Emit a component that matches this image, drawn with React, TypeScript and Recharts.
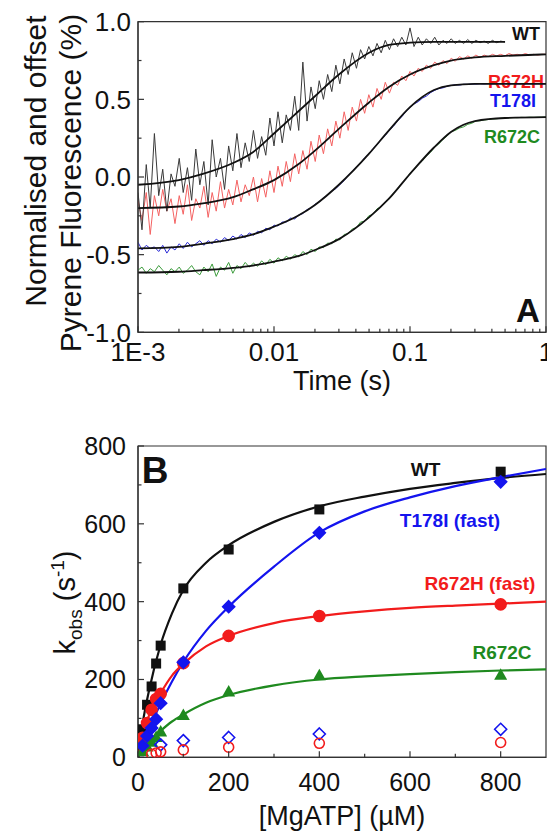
import React from 'react';
import { ComposedChart, Line, Scatter, XAxis, YAxis, ReferenceArea } from 'recharts';

// ── Panel A: stopped-flow pyrene traces (log time) ───────────────────────────

const RAW_T = [
  0.001, 0.00107, 0.00115, 0.00123, 0.00132, 0.00142, 0.00152, 0.00163, 0.00175, 0.00187,
  0.00201, 0.00215, 0.00231, 0.00248, 0.00266, 0.00285, 0.00305, 0.00328, 0.00351, 0.00376,
  0.00404, 0.00433, 0.00464, 0.00498, 0.00534, 0.00572, 0.00614, 0.00658, 0.00706, 0.00757,
  0.00811, 0.0087, 0.00933,
  0.01, 0.0107, 0.0115, 0.0123, 0.0132, 0.0142, 0.0152, 0.0163, 0.0175, 0.0187,
  0.0201, 0.0215, 0.0231, 0.0248, 0.0266, 0.0285, 0.0305, 0.0328, 0.0351, 0.0376,
  0.0404, 0.0433, 0.0464, 0.0498, 0.0534, 0.0572, 0.0614, 0.0658, 0.0706, 0.0757,
  0.0811, 0.087, 0.0933,
  0.1, 0.107, 0.115, 0.123, 0.132, 0.142, 0.152, 0.163, 0.175, 0.187,
  0.201, 0.215, 0.231, 0.248, 0.266, 0.285, 0.305, 0.328, 0.351, 0.376,
  0.404, 0.433, 0.464, 0.498, 0.534, 0.572, 0.614, 0.658, 0.706, 0.757,
  0.811, 0.87, 0.933, 1.0,
];

// WT trace stops at ~0.5 s
const WT_RAW = [
  -0.10, -0.34, 0.08, -0.20, 0.28, -0.12, 0.05, -0.22, 0.02, -0.06,
  0.12, -0.10, 0.06, -0.15, 0.18, -0.05, 0.10, -0.18, 0.24, 0.00,
  0.12, -0.08, 0.20, 0.04, 0.28, 0.06, 0.22, 0.10, 0.30, 0.12,
  0.26, 0.14, 0.38, 0.20, 0.42, 0.22, 0.40, 0.30, 0.52, 0.30,
  0.74, 0.36, 0.58, 0.44, 0.62, 0.50, 0.66, 0.55, 0.72, 0.60,
  0.76, 0.66, 0.80, 0.70, 0.82, 0.76, 0.84, 0.78, 0.86, 0.80,
  0.88, 0.82, 0.89, 0.84, 0.90, 0.85, 0.96, 0.84, 0.90, 0.85,
  0.89, 0.86, 0.90, 0.85, 0.88, 0.86, 0.89, 0.86, 0.88, 0.86,
  0.885, 0.86, 0.88, 0.865, 0.875, 0.86, 0.88, 0.865, 0.875, 0.87,
];

const R672H_RAW = [
  -0.15, -0.28, -0.10, -0.37, -0.12, -0.25, -0.08, -0.22, -0.14, -0.30,
  -0.12, -0.24, -0.05, -0.28, -0.14, -0.20, -0.06, -0.26, -0.10, -0.22,
  -0.03, -0.20, -0.08, -0.18, -0.02, -0.16, -0.05, -0.12,
  0.00, -0.16, -0.01, -0.13, 0.04, -0.10, 0.07, -0.06, 0.10, -0.03,
  0.15, 0.02, 0.17, 0.05, 0.23, 0.10, 0.27, 0.15, 0.31, 0.20,
  0.36, 0.25, 0.42, 0.30, 0.45, 0.36, 0.50, 0.41, 0.53, 0.45,
  0.57, 0.50, 0.61, 0.54, 0.61, 0.59, 0.65, 0.62, 0.68, 0.65,
  0.70, 0.68, 0.72, 0.70, 0.74, 0.72, 0.75, 0.73, 0.765, 0.745,
  0.775, 0.76, 0.78, 0.765, 0.785, 0.77, 0.785, 0.775, 0.79, 0.78,
  0.79, 0.78, 0.795, 0.785, 0.79, 0.785, 0.795, 0.785, 0.79, 0.785, 0.79, 0.79,
];

const T178I_RAW = [
  -0.42, -0.47, -0.44, -0.46, -0.45, -0.48, -0.44, -0.49, -0.45, -0.47,
  -0.43, -0.46, -0.42, -0.45, -0.43, -0.41, -0.44, -0.41, -0.43, -0.40,
  -0.42, -0.39, -0.41, -0.38, -0.40, -0.37, -0.39, -0.36, -0.375, -0.35,
  -0.36, -0.33, -0.34, -0.31, -0.315, -0.29, -0.29, -0.265, -0.27, -0.245,
  -0.235, -0.21, -0.20, -0.175, -0.16, -0.135, -0.117, -0.09, -0.075, -0.048,
  -0.023, 0.01, 0.034, 0.066, 0.091, 0.123, 0.148, 0.182, 0.208, 0.242,
  0.268, 0.302, 0.328, 0.362, 0.388, 0.422, 0.448, 0.47, 0.485, 0.507,
  0.521, 0.544, 0.558, 0.57, 0.574, 0.585, 0.589, 0.594, 0.592, 0.597,
  0.596, 0.599, 0.598, 0.601, 0.599, 0.601, 0.599, 0.601, 0.6, 0.601,
  0.599, 0.601, 0.6, 0.599, 0.601, 0.6, 0.599, 0.601, 0.6, 0.6,
];

const R672C_RAW = [
  -0.60, -0.58, -0.62, -0.59, -0.61, -0.57, -0.60, -0.63, -0.59, -0.61,
  -0.58, -0.62, -0.60, -0.57, -0.61, -0.63, -0.58, -0.61, -0.56, -0.64,
  -0.58, -0.60, -0.55, -0.62, -0.57, -0.59, -0.55, -0.58, -0.555, -0.575,
  -0.54, -0.565, -0.53, -0.555, -0.52, -0.54, -0.51, -0.53, -0.50, -0.515,
  -0.48, -0.50, -0.465, -0.48, -0.45, -0.455, -0.425, -0.43, -0.40, -0.405,
  -0.37, -0.365, -0.335, -0.325, -0.29, -0.285, -0.25, -0.24, -0.205, -0.19,
  -0.16, -0.14, -0.105, -0.078, -0.04, -0.014, 0.024, 0.046, 0.08, 0.103,
  0.136, 0.16, 0.193, 0.213, 0.243, 0.263, 0.292, 0.30, 0.315, 0.323,
  0.339, 0.346, 0.361, 0.362, 0.367, 0.37, 0.374, 0.375, 0.378, 0.379,
  0.381, 0.383, 0.382, 0.384, 0.383, 0.385, 0.384, 0.385, 0.385, 0.386,
];

const FIT_T = [0.001, 0.002, 0.003, 0.005, 0.007, 0.01, 0.015, 0.02, 0.03, 0.05, 0.07, 0.1, 0.15, 0.2, 0.3, 0.5, 1];
const WT_FIT = [-0.05, -0.02, 0.02, 0.09, 0.16, 0.28, 0.42, 0.52, 0.66, 0.8, 0.85, 0.865, 0.87, 0.87, 0.87, 0.87];
const R672H_FIT = [-0.2, -0.19, -0.17, -0.13, -0.08, -0.02, 0.08, 0.17, 0.31, 0.48, 0.58, 0.66, 0.72, 0.75, 0.77, 0.78, 0.79];
const T178I_FIT = [-0.46, -0.45, -0.43, -0.4, -0.37, -0.32, -0.25, -0.18, -0.05, 0.15, 0.3, 0.45, 0.56, 0.59, 0.6, 0.6, 0.6];
const R672C_FIT = [-0.615, -0.61, -0.6, -0.585, -0.57, -0.545, -0.51, -0.47, -0.4, -0.26, -0.14, 0.02, 0.19, 0.29, 0.36, 0.38, 0.385];

const TIME_MAJOR = [0.001, 0.01, 0.1, 1];
const TIME_MINOR = [
  0.002, 0.003, 0.004, 0.005, 0.006, 0.007, 0.008, 0.009,
  0.02, 0.03, 0.04, 0.05, 0.06, 0.07, 0.08, 0.09,
  0.2, 0.3, 0.4, 0.5, 0.6, 0.7, 0.8, 0.9,
];
const FLUOR_MAJOR = [-1, -0.5, 0, 0.5, 1];
const FLUOR_MINOR = [-0.75, -0.25, 0.25, 0.75];

// ── Panel B: kobs vs [MgATP] ────────────────────────────────────────────────

const CONC = [10, 20, 30, 40, 50, 100, 200, 400, 800];
const WT_KOBS = [72, 135, 182, 241, 287, 434, 534, 637, 734];
const T178I_KOBS = [30, 55, 75, 98, 139, 244, 387, 577, 708];
const R672H_KOBS = [50, 88, 122, 150, 163, 242, 312, 363, 393];
const R672C_KOBS = [16, 28, 40, 52, 66, 109, 169, 211, 212];

const T178I_SLOW_CONC = [50, 100, 200, 400, 800];
const T178I_SLOW = [32, 43, 51, 60, 72];
const R672H_SLOW_CONC = [30, 40, 50, 100, 200, 400, 800];
const R672H_SLOW = [8, 11, 14, 19, 26, 36, 38];

const FIT_CONC = [0, 10, 25, 50, 75, 100, 150, 200, 300, 400, 500, 600, 700, 800, 900];
const WT_HYP = [0, 85, 175, 290, 370, 430, 500, 545, 605, 645, 670, 690, 705, 718, 728];
const T178I_HYP = [0, 30, 75, 138, 195, 245, 325, 387, 490, 578, 632, 668, 697, 720, 741];
const R672H_HYP = [0, 55, 110, 165, 210, 240, 285, 312, 345, 363, 375, 384, 390, 395, 400];
const R672C_HYP = [0, 18, 40, 68, 92, 110, 140, 160, 185, 200, 208, 214, 219, 223, 226];

const CONC_MAJOR = [0, 200, 400, 600, 800];
const CONC_MINOR = [100, 300, 500, 700];
const KOBS_MAJOR = [0, 200, 400, 600, 800];
const KOBS_MINOR = [100, 300, 500, 700];

// ── Styling ─────────────────────────────────────────────────────────────────

const FONT = '"Liberation Sans", Arial, Helvetica, sans-serif';
const INK = '#111';
const AXIS = '#333';
const RED = '#f21c1c';
const BLUE = '#1414ee';
const GREEN = '#1f8a1f';

const W = 547;

const pairs = (xs: number[], ys: number[], kx: string, ky: string) =>
  ys.map((v, i) => ({ [kx]: xs[i], [ky]: v }));

// ticks point inward; tickSize/tickMargin are 0 so x/y arrive on the axis line
function xTick(majors: number[], fmt: (v: number) => string, fontSize: number, base: number) {
  return (p: any) => {
    const { x, y, payload } = p;
    const major = majors.indexOf(payload.value) >= 0;
    return (
      <g>
        <line x1={x} x2={x} y1={y} y2={y - (major ? 6 : 3.5)} stroke={AXIS} strokeWidth={1.2} />
        {major && (
          <text x={x} y={y + base} textAnchor="middle" fontSize={fontSize} fontFamily={FONT} fill={INK}>
            {fmt(payload.value)}
          </text>
        )}
      </g>
    );
  };
}

function yTick(majors: number[], fmt: (v: number) => string, fontSize: number, gap: number) {
  return (p: any) => {
    const { x, y, payload } = p;
    const major = majors.indexOf(payload.value) >= 0;
    return (
      <g>
        <line x1={x} x2={x + (major ? 6 : 3.5)} y1={y} y2={y} stroke={AXIS} strokeWidth={1.2} />
        {major && (
          <text x={x - gap} y={y + fontSize * 0.36} textAnchor="end" fontSize={fontSize} fontFamily={FONT} fill={INK}>
            {fmt(payload.value)}
          </text>
        )}
      </g>
    );
  };
}

const fmtTime = (v: number) => (v === 0.001 ? '1E-3' : String(v));
const fmtFluor = (v: number) => v.toFixed(1);

function PanelA() {
  const wtRaw = pairs(RAW_T, WT_RAW, 't', 'v');
  const rRaw = pairs(RAW_T, R672H_RAW, 't', 'v');
  const tRaw = pairs(RAW_T, T178I_RAW, 't', 'v');
  const cRaw = pairs(RAW_T, R672C_RAW, 't', 'v');
  const fits = [WT_FIT, R672H_FIT, T178I_FIT, R672C_FIT].map((f) => pairs(FIT_T, f, 't', 'v'));

  return (
    <ComposedChart width={W} height={420} margin={{ top: 21.7, right: 1, bottom: 0, left: 0 }}>
      <XAxis
        dataKey="t"
        type="number"
        scale="log"
        domain={[0.001, 1]}
        allowDataOverflow
        ticks={[...TIME_MAJOR, ...TIME_MINOR].sort((a, b) => a - b)}
        interval={0}
        tickSize={0}
        tickMargin={0}
        tickLine={false}
        tick={xTick(TIME_MAJOR, fmtTime, 26, 29)}
        axisLine={{ stroke: AXIS, strokeWidth: 1.2 }}
        height={87.7}
      />
      <YAxis
        type="number"
        domain={[-1, 1]}
        allowDataOverflow
        ticks={[...FLUOR_MAJOR, ...FLUOR_MINOR].sort((a, b) => a - b)}
        interval={0}
        tickSize={0}
        tickMargin={0}
        tickLine={false}
        tick={yTick(FLUOR_MAJOR, fmtFluor, 26, 7)}
        axisLine={{ stroke: AXIS, strokeWidth: 1.2 }}
        width={138}
      />
      <ReferenceArea x1={0.001} x2={1} y1={-1} y2={1} fill="none" stroke={AXIS} strokeWidth={1.2} />

      <Line data={cRaw} dataKey="v" type="linear" stroke="#3c9c3c" strokeWidth={1} dot={false} activeDot={false} isAnimationActive={false} />
      <Line data={tRaw} dataKey="v" type="linear" stroke="#2a2ad6" strokeWidth={1} dot={false} activeDot={false} isAnimationActive={false} />
      <Line data={rRaw} dataKey="v" type="linear" stroke="#f46262" strokeWidth={1} dot={false} activeDot={false} isAnimationActive={false} />
      <Line data={wtRaw} dataKey="v" type="linear" stroke="#3a3a3a" strokeWidth={1} dot={false} activeDot={false} isAnimationActive={false} />
      {fits.map((d, i) => (
        <Line key={i} data={d} dataKey="v" type="monotone" stroke={INK} strokeWidth={1.8} dot={false} activeDot={false} isAnimationActive={false} />
      ))}

      <text transform="rotate(-90)" x={-161} y={46} textAnchor="middle" fontSize={30} fontFamily={FONT} fill={INK}>
        Normalised and offset
      </text>
      <text transform="rotate(-90)" x={-183} y={81} textAnchor="middle" fontSize={30} fontFamily={FONT} fill={INK}>
        Pyrene Fluorescence (%)
      </text>
      <text x={342} y={390} textAnchor="middle" fontSize={27} fontFamily={FONT} fill={INK}>
        Time (s)
      </text>
      <g fontFamily={FONT} fontWeight="bold" fontSize={18} textAnchor="middle">
        <text x={526} y={39.8} fill={INK}>WT</text>
        <text x={516} y={88.2} fill={RED}>R672H</text>
        <text x={513} y={106.5} fill={BLUE}>T178I</text>
        <text x={512} y={143.2} fill={GREEN}>R672C</text>
      </g>
      <text x={528} y={322} textAnchor="middle" fontSize={33} fontWeight="bold" fontFamily={FONT} fill={INK}>
        A
      </text>
    </ComposedChart>
  );
}

// marker shapes
const square = (p: any) => <rect x={p.cx - 5} y={p.cy - 5} width={10} height={10} fill={INK} />;
const diamond = (fill: string, stroke: string, r: number) => (p: any) => (
  <polygon
    points={`${p.cx},${p.cy - r} ${p.cx + r},${p.cy} ${p.cx},${p.cy + r} ${p.cx - r},${p.cy}`}
    fill={fill}
    stroke={stroke}
    strokeWidth={1.6}
  />
);
const circle = (fill: string, r: number) => (p: any) => (
  <circle cx={p.cx} cy={p.cy} r={r} fill={fill} stroke={RED} strokeWidth={1.6} />
);
const triangle = (p: any) => (
  <polygon points={`${p.cx},${p.cy - 6.5} ${p.cx + 6.5},${p.cy + 5} ${p.cx - 6.5},${p.cy + 5}`} fill={GREEN} />
);

function PanelB() {
  const hyp = (ys: number[]) => pairs(FIT_CONC, ys, 'x', 'y');
  const pts = (xs: number[], ys: number[]) => pairs(xs, ys, 'x', 'y');

  return (
    <ComposedChart width={W} height={413} margin={{ top: 26, right: 1, bottom: 0, left: 0 }}>
      <XAxis
        dataKey="x"
        type="number"
        domain={[0, 900]}
        allowDataOverflow
        ticks={[...CONC_MAJOR, ...CONC_MINOR].sort((a, b) => a - b)}
        interval={0}
        tickSize={0}
        tickMargin={0}
        tickLine={false}
        tick={xTick(CONC_MAJOR, String, 25, 33.5)}
        axisLine={{ stroke: AXIS, strokeWidth: 1.2 }}
        height={75.7}
      />
      <YAxis
        dataKey="y"
        type="number"
        domain={[0, 800]}
        allowDataOverflow
        ticks={[...KOBS_MAJOR, ...KOBS_MINOR].sort((a, b) => a - b)}
        interval={0}
        tickSize={0}
        tickMargin={0}
        tickLine={false}
        tick={yTick(KOBS_MAJOR, String, 25, 12)}
        axisLine={{ stroke: AXIS, strokeWidth: 1.2 }}
        width={138}
      />
      <ReferenceArea x1={0} x2={900} y1={0} y2={800} fill="none" stroke={AXIS} strokeWidth={1.2} />

      <Line data={hyp(WT_HYP)} dataKey="y" type="monotone" stroke={INK} strokeWidth={2.2} dot={false} activeDot={false} isAnimationActive={false} />
      <Line data={hyp(T178I_HYP)} dataKey="y" type="monotone" stroke={BLUE} strokeWidth={2.2} dot={false} activeDot={false} isAnimationActive={false} />
      <Line data={hyp(R672H_HYP)} dataKey="y" type="monotone" stroke={RED} strokeWidth={2.2} dot={false} activeDot={false} isAnimationActive={false} />
      <Line data={hyp(R672C_HYP)} dataKey="y" type="monotone" stroke={GREEN} strokeWidth={2.2} dot={false} activeDot={false} isAnimationActive={false} />

      <Scatter data={pts(CONC, WT_KOBS)} shape={square} isAnimationActive={false} />
      <Scatter data={pts(CONC, R672H_KOBS)} shape={circle(RED, 5.5)} isAnimationActive={false} />
      <Scatter data={pts(CONC, R672C_KOBS)} shape={triangle} isAnimationActive={false} />
      <Scatter data={pts(CONC, T178I_KOBS)} shape={diamond(BLUE, BLUE, 6)} isAnimationActive={false} />
      <Scatter data={pts(T178I_SLOW_CONC, T178I_SLOW)} shape={diamond('none', BLUE, 6)} isAnimationActive={false} />
      <Scatter data={pts(R672H_SLOW_CONC, R672H_SLOW)} shape={circle('none', 5)} isAnimationActive={false} />

      <text transform="rotate(-90)" x={-182.5} y={75} textAnchor="middle" fontSize={29} fontFamily={FONT} fill={INK}>
        <tspan>k</tspan>
        <tspan fontSize={19} dy={7}>obs</tspan>
        <tspan dy={-7}>{'\u00a0(s'}</tspan>
        <tspan fontSize={19} dy={-11}>-1</tspan>
        <tspan dy={11}>)</tspan>
      </text>
      <text x={342} y={405} textAnchor="middle" fontSize={27} fontFamily={FONT} fill={INK}>
        [MgATP] (µM)
      </text>
      <text x={155} y={63.2} textAnchor="middle" fontSize={37} fontWeight="bold" fontFamily={FONT} fill={INK}>
        B
      </text>
      <g fontFamily={FONT} fontWeight="bold" fontSize={19} textAnchor="middle">
        <text x={425.5} y={56} fill={INK}>WT</text>
        <text x={450} y={106.8} fill={BLUE}>T178I (fast)</text>
        <text x={480} y={169.8} fill={RED}>R672H (fast)</text>
        <text x={502} y={238.5} fill={GREEN}>R672C</text>
      </g>
    </ComposedChart>
  );
}

export default function App() {
  return (
    <div style={{ position: 'absolute', left: 0, top: 0, width: W, height: 833, background: '#fff' }}>
      <PanelA />
      <PanelB />
    </div>
  );
}
